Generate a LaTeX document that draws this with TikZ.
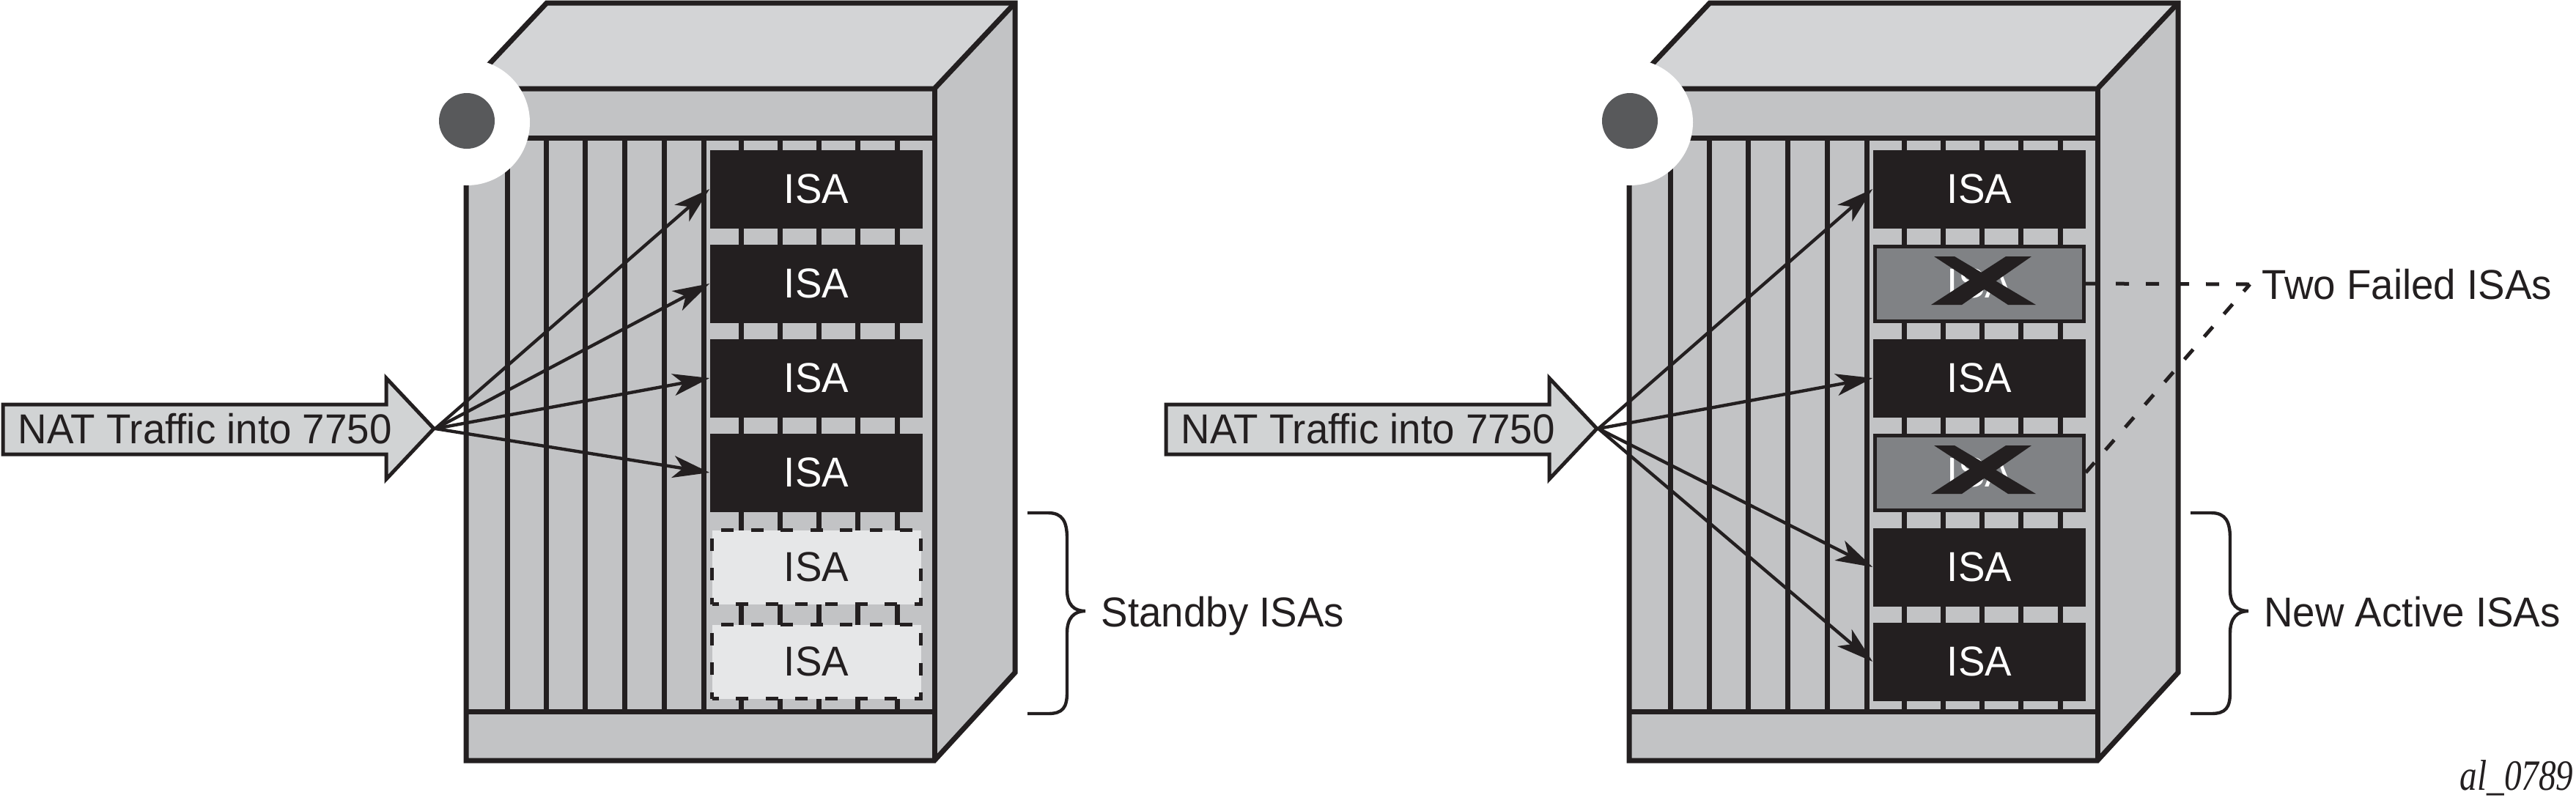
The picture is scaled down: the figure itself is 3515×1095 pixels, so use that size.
\documentclass[tikz,border=0pt]{standalone}
\usepackage{fontspec}
\setmainfont{Liberation Sans}[FakeStretch=0.96]
\newfontfamily\serifit{Liberation Serif}
\usetikzlibrary{arrows.meta}
\definecolor{ink}{HTML}{231F20}
\definecolor{topgray}{HTML}{D3D4D6}
\definecolor{bodygray}{HTML}{C2C3C5}
\definecolor{standbygray}{HTML}{E6E7E8}
\definecolor{failgray}{HTML}{808285}
\definecolor{dotgray}{HTML}{58595B}
\definecolor{arrowgray}{HTML}{D1D3D4}
\newcommand{\isafont}{\fontsize{14.25pt}{17pt}\selectfont}
\tikzset{
  cab/.style={draw=ink, line width=1.75pt, line join=miter},
  slotline/.style={draw=ink, line width=1.75pt},
  isa/.style={rectangle, fill=ink, text=white, minimum width=72.5pt, minimum height=26.75pt, inner sep=0pt, font=\isafont},
  standby/.style={rectangle, fill=standbygray, draw=ink, line width=1.4pt, dash pattern=on 4.25pt off 5.9pt, dash phase=2pt, text=ink, minimum width=71.25pt, minimum height=25.25pt, inner sep=0pt, font=\isafont},
  failed/.style={rectangle, fill=failgray, draw=ink, line width=1.25pt, text=white, minimum width=71.25pt, minimum height=25.5pt, inner sep=0pt, font=\isafont},
  flow/.style={draw=ink, line width=1.1pt, -{Stealth[length=12.5pt, width=7.5pt, inset=3.3pt]}},
  natarrow/.style={fill=arrowgray, draw=ink, line width=1.25pt, line join=miter},
  txtlabel/.style={anchor=base west, inner sep=0pt, text=ink, font=\isafont},
  bracepath/.style={draw=ink, line width=1.1pt},
  failline/.style={draw=ink, line width=1.25pt, dash pattern=on 4.5pt off 5.75pt},
  xmark/.style={fill=ink},
}
\newcommand{\cabinet}[1]{%
\begin{scope}[shift={(#1,0)}]
  \fill[topgray] (636,121) -- (746,4) -- (1385,4) -- (1275,121) -- cycle;
  \fill[bodygray] (1275,121) -- (1385,4) -- (1385,918) -- (1275,1038) -- cycle;
  \fill[bodygray] (636,121) rectangle (1275,1038);
  \foreach \x in {692,745,798,852,906,960,1011,1064,1117,1170,1224}
    \draw[slotline] (\x,188) -- (\x,971);
  \draw[cab] (636,121) -- (746,4) -- (1385,4) -- (1385,918) -- (1275,1038) -- (636,1038) -- cycle;
  \draw[cab] (636,121) -- (1275,121) -- (1385,4);
  \draw[cab] (1275,121) -- (1275,1038);
  \draw[cab] (636,188) -- (1275,188);
  \draw[cab] (636,971) -- (1275,971);
  \fill[white] (637,167) circle[radius=21.5pt];
  \fill[dotgray] (637,165) circle[radius=9.5pt];
\end{scope}}
\newcommand{\natbody}[1]{%
\begin{scope}[shift={(#1,0)}]
  \draw[natarrow] (4,552) -- (527,552) -- (527,516) -- (592,585) -- (527,654) -- (527,620) -- (4,620) -- cycle;
\end{scope}}
\newcommand{\bracedraw}[1]{%
\begin{scope}[shift={(#1,0)}]
  \draw[bracepath] (1402,700) -- (1430,700) .. controls (1450,700) and (1456,712) .. (1456,735)
    -- (1456,805) .. controls (1456,826) and (1466,834) .. (1481,834)
    .. controls (1466,834) and (1456,843) .. (1456,864)
    -- (1456,945) .. controls (1456,966) and (1450,974) .. (1430,974) -- (1402,974);
\end{scope}}
\newcommand{\failx}[1]{%
\begin{scope}[shift={(#1)}]
  \fill[xmark] (-62,-37) -- (-34,-37) -- (77,29) -- (39,29) -- cycle;
  \fill[xmark] (36,-37) -- (71,-37) -- (-24,29) -- (-66,29) -- cycle;
\end{scope}}
\begin{document}
\begin{tikzpicture}[x=0.25pt, y=-0.25pt]
\useasboundingbox (0,0) rectangle (3515,1095);

% ---------- left cabinet ----------
\cabinet{0}
\node[isa] (L1) at (1114,258) {ISA};
\node[isa] (L2) at (1114,387) {ISA};
\node[isa] (L3) at (1114,516) {ISA};
\node[isa] (L4) at (1114,645) {ISA};
\node[standby] (L5) at (1114,774) {ISA};
\node[standby] (L6) at (1114,903) {ISA};

\natbody{0}
\coordinate (Ltip) at (594,585);
\node[txtlabel] (Lnat) at (24,605.5) {NAT Traffic into 7750};
\draw[flow] (Ltip) -- (L1.west);
\draw[flow] (Ltip) -- (L2.west);
\draw[flow] (Ltip) -- (L3.west);
\draw[flow] (Ltip) -- (L4.west);

\bracedraw{0}
\node[txtlabel] (Lstandby) at (1502,855.7) {Standby ISAs};

% ---------- right cabinet ----------
\cabinet{1587}
\node[isa] (R1) at (2701,258) {ISA};
\node[failed] (R2) at (2701,387) {ISA};
\node[isa] (R3) at (2701,516) {ISA};
\node[failed] (R4) at (2701,645) {ISA};
\node[isa] (R5) at (2701,774) {ISA};
\node[isa] (R6) at (2701,903) {ISA};
\failx{R2.center}
\failx{R4.center}

\natbody{1587}
\coordinate (Rtip) at (2181,585);
\node[txtlabel] (Rnat) at (1611,605.5) {NAT Traffic into 7750};
\draw[flow] (Rtip) -- (R1.west);
\draw[flow] (Rtip) -- (R3.west);
\draw[flow] (Rtip) -- (R5.west);
\draw[flow] (Rtip) -- (R6.west);

\coordinate (failpt) at (3070,388);
\draw[failline] (R2.east) -- (failpt);
\draw[failline] (R4.east) -- (failpt);
\node[txtlabel] (failtxt) at (3086,408) {Two Failed ISAs};

\bracedraw{1587}
\node[txtlabel] (newactive) at (3088.5,855.7) {New Active ISAs};

\node[anchor=base west, inner sep=0pt, text=ink] (figid) at (3356,1078)
  {\scalebox{0.8}[1]{\fontsize{14.75pt}{17pt}\serifit\itshape al\_0789}};
\end{tikzpicture}
\end{document}
